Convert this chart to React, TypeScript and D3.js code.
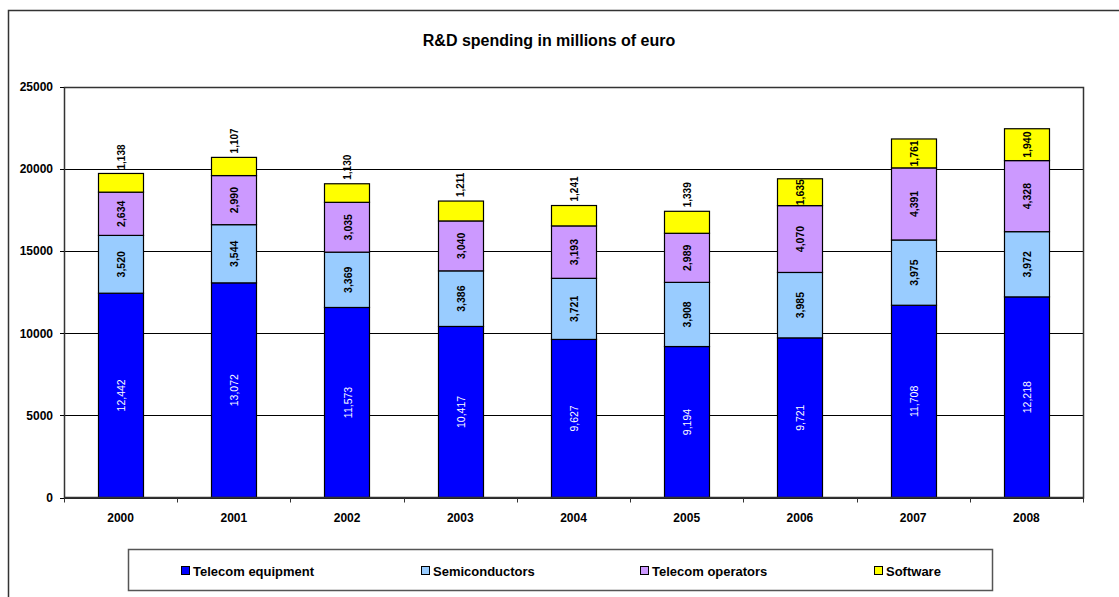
import React from "react";
import * as d3 from "d3";

const years = ["2000", "2001", "2002", "2003", "2004", "2005", "2006", "2007", "2008"];
const telecomEquipment = [12442, 13072, 11573, 10417, 9627, 9194, 9721, 11708, 12218];
const semiconductors = [3520, 3544, 3369, 3386, 3721, 3908, 3985, 3975, 3972];
const telecomOperators = [2634, 2990, 3035, 3040, 3193, 2989, 4070, 4391, 4328];
const software = [1138, 1107, 1130, 1211, 1241, 1339, 1635, 1761, 1940];
const seriesNames = ["Telecom equipment", "Semiconductors", "Telecom operators", "Software"];
const seriesColors = ["#0000FF", "#99CCFF", "#CC99FF", "#FFFF00"];
const yTicks = [0, 5000, 10000, 15000, 20000, 25000];
const title = "R&D spending in millions of euro";

const W = 1119;
const H = 597;
const plot = { left: 64, right: 1083, top: 87, bottom: 497.5 };
const FONT = "Arial, 'Liberation Sans', sans-serif";

export default function App() {
  const x = d3.scaleBand<string>().domain(years).range([plot.left, plot.right]).paddingInner(0.6).paddingOuter(0.3);
  const band = d3.scaleBand<string>().domain(years).range([plot.left, plot.right]);
  const y = d3.scaleLinear().domain([0, 25000]).range([plot.bottom, plot.top]);
  const fmt = d3.format(",");

  const rows = years.map((yr, i) => ({
    year: yr,
    "Telecom equipment": telecomEquipment[i],
    Semiconductors: semiconductors[i],
    "Telecom operators": telecomOperators[i],
    Software: software[i],
  }));
  const stacked = d3.stack<any>().keys(seriesNames)(rows);

  const boundaries = years.map((yr) => band(yr)!).concat([plot.right]);
  const legendX = [181, 421, 640, 874];

  return (
    <svg width={W} height={H} style={{ position: "absolute", left: 0, top: 0, background: "#fff" }} fontFamily={FONT}>
      <rect x={8.5} y={10.5} width={1200} height={700} fill="#fff" stroke="#333" strokeWidth={1.5} />
      <text x={549} y={46} textAnchor="middle" fontSize={16} fontWeight="bold" fill="#000">{title}</text>

      {/* gridlines */}
      {yTicks.map((t) => (
        <line key={t} x1={plot.left} x2={plot.right} y1={Math.round(y(t)) + 0.5} y2={Math.round(y(t)) + 0.5} stroke="#000" strokeWidth={1} />
      ))}
      <rect x={plot.left + 0.5} y={plot.top + 0.5} width={plot.right - plot.left} height={plot.bottom - plot.top} fill="none" stroke="#333" strokeWidth={1.5} />

      {/* y axis */}
      {yTicks.map((t) => (
        <g key={"yt" + t}>
          <line x1={plot.left - 4} x2={plot.left} y1={Math.round(y(t)) + 0.5} y2={Math.round(y(t)) + 0.5} stroke="#000" />
          <text x={53} y={y(t)} dy="0.35em" textAnchor="end" fontSize={12} fontWeight="bold" fill="#000">{t}</text>
        </g>
      ))}

      {/* bars */}
      {stacked.map((s, si) => (
        <g key={s.key}>
          {s.map((d, i) => {
            const x0 = x(years[i])!;
            const y0 = y(d[1]);
            const h = y(d[0]) - y(d[1]);
            return (
              <rect key={i} x={Math.round(x0) + 0.5} y={y0} width={Math.round(x.bandwidth())} height={h} fill={seriesColors[si]} stroke="#000" strokeWidth={1.2} />
            );
          })}
        </g>
      ))}

      {/* labels */}
      {stacked.map((s, si) => (
        <g key={"l" + s.key}>
          {s.map((d, i) => {
            const cx = x(years[i])! + x.bandwidth() / 2 + 0.5;
            const top = y(d[1]);
            const h = y(d[0]) - y(d[1]);
            const v = d[1] - d[0];
            const white = si === 0;
            if (h < 25) {
              return (
                <text key={i} transform={`translate(${cx},${top - 4}) rotate(-90)`} textAnchor="start" dominantBaseline="central" fontSize={10} fontWeight="bold" fill="#000">{fmt(v)}</text>
              );
            }
            return (
              <text key={i} transform={`translate(${cx},${top + h / 2}) rotate(-90)`} textAnchor="middle" dominantBaseline="central" fontSize={10.5} fontWeight={white ? "normal" : "bold"} fill={white ? "#fff" : "#000"}>{fmt(v)}</text>
            );
          })}
        </g>
      ))}

      {/* x axis */}
      <line x1={plot.left} x2={plot.right} y1={plot.bottom} y2={plot.bottom} stroke="#333" strokeWidth={1.5} />
      {boundaries.map((bx, i) => (
        <line key={"xt" + i} x1={Math.round(bx) + 0.5} x2={Math.round(bx) + 0.5} y1={plot.bottom} y2={plot.bottom + 5} stroke="#333" />
      ))}
      {years.map((yr) => (
        <text key={"xl" + yr} x={band(yr)! + band.bandwidth() / 2} y={522} textAnchor="middle" fontSize={12} fontWeight="bold" fill="#000">{yr}</text>
      ))}

      {/* legend */}
      <rect x={128.5} y={549.5} width={864} height={41} fill="#fff" stroke="#555" strokeWidth={1.5} />
      {seriesNames.map((n, i) => (
        <g key={"lg" + n}>
          <rect x={legendX[i] + 0.5} y={566.5} width={8} height={8} fill={seriesColors[i]} stroke="#000" />
          <text x={legendX[i] + 12} y={571} dy="0.35em" fontSize={13} fontWeight="bold" fill="#000">{n}</text>
        </g>
      ))}
    </svg>
  );
}
